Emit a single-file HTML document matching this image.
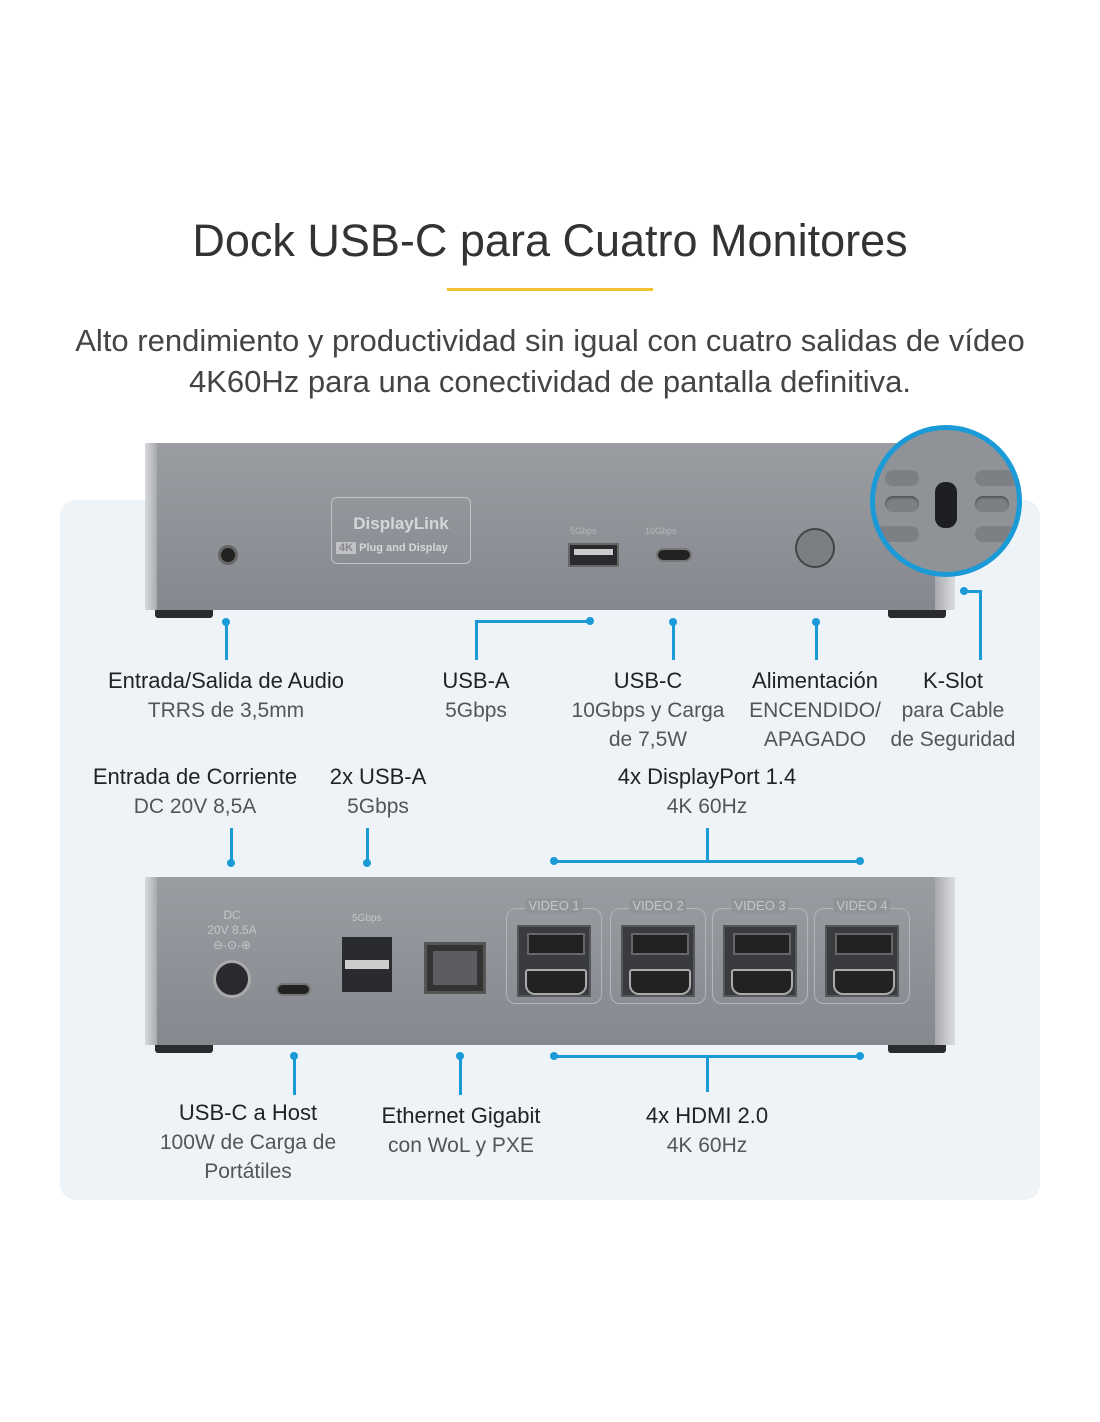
<!DOCTYPE html>
<html><head><meta charset="utf-8"><style>
*{margin:0;padding:0;box-sizing:border-box}
body{width:1100px;height:1422px;background:#fff;position:relative;overflow:hidden;font-family:"Liberation Sans",sans-serif}
.a{position:absolute}
.t{position:absolute;text-align:center;color:#333;font-size:21px;line-height:29px;white-space:nowrap;transform:translateX(-50%)}
.t b{font-weight:normal;color:#222;font-size:22px}
.t span{color:#555;font-weight:300}
.l{position:absolute;background:#1a9ad6}
.d{position:absolute;width:8px;height:8px;border-radius:50%;background:#1a9ad6}
.dev{position:absolute;background:linear-gradient(#9a9da2,#85888e);}
.foot{position:absolute;height:8px;background:#2a2b2e;border-radius:0 0 3px 3px}
.vg{position:absolute;border:1.5px solid #b2b5ba;border-radius:10px;width:96px;height:96px}
.vg i{position:absolute;top:-11px;left:50%;transform:translateX(-50%);background:#909398;color:#c4c6ca;font-style:normal;font-size:13px;padding:0 3px;white-space:nowrap}
.pt{position:absolute;left:10px;top:16px;width:74px;height:72px;background:#3a3b3e;border:2px solid #55575b}
.pt:before{content:"";position:absolute;left:8px;top:6px;width:54px;height:18px;background:#222;border:2px solid #666}
.pt:after{content:"";position:absolute;left:6px;top:42px;width:58px;height:22px;background:#222;border:2px solid #aaa;border-radius:3px 3px 10px 10px}
</style></head><body>
<div class="a" style="left:0;width:1100px;top:215px;text-align:center;font-size:45px;color:#333;font-weight:300">Dock USB-C para Cuatro Monitores</div>
<div class="a" style="left:447px;top:288px;width:206px;height:3px;background:#f2c22e"></div>
<div class="a" style="left:0;width:1100px;top:320px;text-align:center;font-size:31px;line-height:41px;color:#444">Alto rendimiento y productividad sin igual con cuatro salidas de vídeo<br>4K60Hz para una conectividad de pantalla definitiva.</div>
<div class="a" style="left:60px;top:500px;width:980px;height:700px;background:#eef3f8;border-radius:16px"></div>

<!-- top device -->
<div class="dev" style="left:145px;top:443px;width:810px;height:167px;border-radius:4px 4px 0 0"></div>
<div class="a" style="left:145px;top:443px;width:12px;height:167px;background:linear-gradient(90deg,#d8d9dc,#a8aaae)"></div>
<div class="a" style="left:935px;top:443px;width:20px;height:167px;background:linear-gradient(90deg,#a8aaae,#dcdde0)"></div>
<div class="foot" style="left:155px;top:610px;width:58px"></div>
<div class="foot" style="left:888px;top:610px;width:58px"></div>
<div class="a" style="left:218px;top:545px;width:20px;height:20px;border-radius:50%;background:#222;border:3px solid #666"></div>
<div class="a" style="left:331px;top:497px;width:140px;height:67px;border:1.5px solid #c0c2c6;border-radius:6px;color:#d6d7da;font-weight:bold;font-size:17px;text-align:center;padding-top:16px">DisplayLink<div style="font-size:11px;margin-top:8px;text-align:left;padding-left:4px"><span style="background:#c0c2c6;color:#888;padding:0 3px">4K</span> Plug and Display</div></div>
<div class="a" style="left:568px;top:543px;width:51px;height:24px;background:#2a2b2e;border:2px solid #666"><div style="margin:4px 4px;height:6px;background:#ccc"></div></div>
<div class="a" style="left:656px;top:548px;width:36px;height:14px;border-radius:7px;background:#222;border:2px solid #777"></div>
<div class="a" style="left:570px;top:526px;font-size:9px;color:#b5b7ba">5Gbps</div>
<div class="a" style="left:645px;top:526px;font-size:9px;color:#b5b7ba">10Gbps</div>
<div class="a" style="left:795px;top:528px;width:40px;height:40px;border-radius:50%;background:#7b7e83;border:2px solid #444"></div>
<div class="a" style="left:870px;top:425px;width:152px;height:152px;border-radius:50%;background:#8f9297;border:5px solid #1a9ad6;overflow:hidden">
<div class="a" style="left:60px;top:52px;width:22px;height:46px;border-radius:10px;background:#1e1f22"></div>
<div class="a" style="left:10px;top:66px;width:34px;height:16px;border-radius:8px;background:#7c7f84;box-shadow:inset 0 2px 2px #555"></div>
<div class="a" style="left:100px;top:66px;width:34px;height:16px;border-radius:8px;background:#7c7f84;box-shadow:inset 0 2px 2px #555"></div>
<div class="a" style="left:10px;top:40px;width:34px;height:16px;border-radius:8px;background:#7c7f84"></div>
<div class="a" style="left:100px;top:40px;width:44px;height:16px;border-radius:8px;background:#7c7f84"></div>
<div class="a" style="left:0px;top:96px;width:44px;height:16px;border-radius:8px;background:#7c7f84"></div>
<div class="a" style="left:100px;top:96px;width:44px;height:16px;border-radius:8px;background:#7c7f84"></div>
</div>

<!-- top connectors -->
<div class="d" style="left:222px;top:618px"></div><div class="l" style="left:225px;top:620px;width:3px;height:40px"></div>
<div class="l" style="left:475px;top:620px;width:3px;height:40px"></div><div class="l" style="left:475px;top:620px;width:117px;height:3px"></div><div class="d" style="left:586px;top:617px"></div>
<div class="d" style="left:669px;top:618px"></div><div class="l" style="left:672px;top:620px;width:3px;height:40px"></div>
<div class="d" style="left:812px;top:618px"></div><div class="l" style="left:815px;top:620px;width:3px;height:40px"></div>
<div class="d" style="left:960px;top:587px"></div><div class="l" style="left:964px;top:590px;width:18px;height:3px"></div><div class="l" style="left:979px;top:590px;width:3px;height:70px"></div>

<div class="t" style="left:226px;top:666px"><b>Entrada/Salida de Audio</b><br><span>TRRS de 3,5mm</span></div>
<div class="t" style="left:476px;top:666px"><b>USB-A</b><br><span>5Gbps</span></div>
<div class="t" style="left:648px;top:666px"><b>USB-C</b><br><span>10Gbps y Carga<br>de 7,5W</span></div>
<div class="t" style="left:815px;top:666px"><b>Alimentación</b><br><span>ENCENDIDO/<br>APAGADO</span></div>
<div class="t" style="left:953px;top:666px"><b>K-Slot</b><br><span>para Cable<br>de Seguridad</span></div>

<div class="t" style="left:195px;top:762px"><b>Entrada de Corriente</b><br><span>DC 20V 8,5A</span></div>
<div class="t" style="left:378px;top:762px"><b>2x USB-A</b><br><span>5Gbps</span></div>
<div class="t" style="left:707px;top:762px"><b>4x DisplayPort 1.4</b><br><span>4K 60Hz</span></div>
<div class="l" style="left:230px;top:828px;width:3px;height:36px"></div><div class="d" style="left:227px;top:859px"></div>
<div class="l" style="left:366px;top:828px;width:3px;height:36px"></div><div class="d" style="left:363px;top:859px"></div>
<div class="l" style="left:706px;top:828px;width:3px;height:34px"></div><div class="l" style="left:554px;top:860px;width:306px;height:3px"></div>
<div class="d" style="left:550px;top:857px"></div><div class="d" style="left:856px;top:857px"></div>

<!-- bottom device -->
<div class="dev" style="left:145px;top:877px;width:810px;height:168px;border-radius:4px 4px 0 0"></div>
<div class="a" style="left:145px;top:877px;width:12px;height:168px;background:linear-gradient(90deg,#d8d9dc,#a8aaae)"></div>
<div class="a" style="left:935px;top:877px;width:20px;height:168px;background:linear-gradient(90deg,#a8aaae,#dcdde0)"></div>
<div class="foot" style="left:155px;top:1045px;width:58px"></div>
<div class="foot" style="left:888px;top:1045px;width:58px"></div>
<div class="a" style="left:196px;top:908px;width:72px;text-align:center;font-size:12px;line-height:15px;color:#c4c6ca">DC<br>20V 8.5A<br>⊖-⊙-⊕</div>
<div class="a" style="left:213px;top:960px;width:38px;height:38px;border-radius:50%;background:#2a2b2e;border:3px solid #aaa"></div>
<div class="a" style="left:276px;top:983px;width:35px;height:13px;border-radius:7px;background:#222;border:2px solid #777"></div>
<div class="a" style="left:352px;top:913px;font-size:10px;color:#c4c6ca">5Gbps</div>
<div class="a" style="left:342px;top:937px;width:50px;height:55px;background:#2a2b2e"><div style="margin-top:23px;height:9px;background:#ccc;margin-left:3px;margin-right:3px"></div></div>
<div class="a" style="left:424px;top:942px;width:62px;height:52px;background:#333;border:3px solid #555"><div style="margin:6px;height:34px;background:#5b5d61"></div></div>
<div class="vg" style="left:506px;top:908px"><i>VIDEO 1</i><div class="pt"></div></div>
<div class="vg" style="left:610px;top:908px"><i>VIDEO 2</i><div class="pt"></div></div>
<div class="vg" style="left:712px;top:908px"><i>VIDEO 3</i><div class="pt"></div></div>
<div class="vg" style="left:814px;top:908px"><i>VIDEO 4</i><div class="pt"></div></div>

<div class="d" style="left:290px;top:1052px"></div><div class="l" style="left:293px;top:1055px;width:3px;height:40px"></div>
<div class="d" style="left:456px;top:1052px"></div><div class="l" style="left:459px;top:1055px;width:3px;height:40px"></div>
<div class="d" style="left:550px;top:1052px"></div><div class="d" style="left:856px;top:1052px"></div>
<div class="l" style="left:554px;top:1055px;width:306px;height:3px"></div><div class="l" style="left:706px;top:1055px;width:3px;height:37px"></div>

<div class="t" style="left:248px;top:1098px"><b>USB-C a Host</b><br><span>100W de Carga de<br>Portátiles</span></div>
<div class="t" style="left:461px;top:1101px"><b>Ethernet Gigabit</b><br><span>con WoL y PXE</span></div>
<div class="t" style="left:707px;top:1101px"><b>4x HDMI 2.0</b><br><span>4K 60Hz</span></div>
</body></html>
